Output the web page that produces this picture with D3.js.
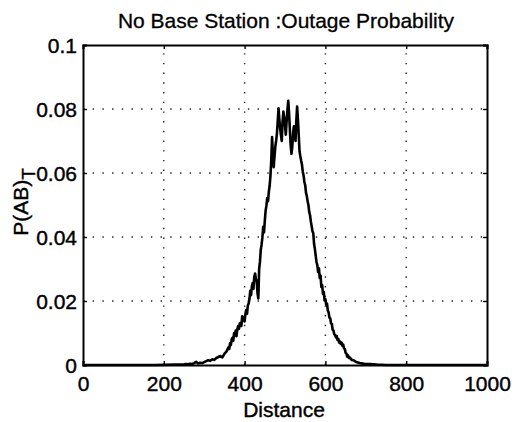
<!DOCTYPE html>
<html>
<head>
<meta charset="utf-8">
<script src="https://cdn.jsdelivr.net/npm/d3@7"></script>
<style>
  html, body { margin: 0; padding: 0; background: #fff; }
  svg { display: block; font-family: "Liberation Sans", Arial, Helvetica, sans-serif; }
</style>
</head>
<body>
<svg id="chart" width="516" height="422"></svg>
<script>
// ---- data ----
const title = "No Base Station :Outage Probability";
const xLabel = "Distance";
const xTicks = [0, 200, 400, 600, 800, 1000];
const yTicks = [0, 0.02, 0.04, 0.06, 0.08, 0.1];
const yTickLabels = ["0", "0.02", "0.04", "0.06", "0.08", "0.1"];
const distance = [0, 180, 250, 255, 260, 265, 270, 275, 280, 285, 290, 295, 300, 305, 310, 315, 320, 325, 330, 335, 340, 345, 350, 355,
  360, 362, 364, 366, 368, 370, 372, 374, 376, 378, 380, 382, 384, 386, 388, 390, 392, 394, 396, 398,
  400, 402, 404, 406, 408, 410, 412, 414, 416, 418, 420, 422, 424, 426, 428, 430, 432, 434, 436, 438,
  440, 442, 444, 446, 448, 450, 452, 454, 456, 458, 460, 462, 464, 466, 468, 470, 472, 474, 476, 478,
  480, 482, 484, 486, 488, 490, 492, 494, 496, 498, 500, 502, 504, 506, 508, 510, 512, 514, 516, 518,
  520, 522, 524, 526, 528, 530, 532, 534, 536, 538, 540, 542, 544, 546, 548, 550, 552, 554, 556, 558,
  560, 562, 564, 566, 568, 570, 572, 574, 576, 578, 580, 582, 584, 586, 588, 590, 592, 594, 596, 598,
  600, 602, 604, 606, 608, 610, 612, 614, 616, 618, 620, 622, 624, 626, 628, 630, 632, 634, 636, 638,
  640, 642, 644, 646, 648, 650, 652, 654, 656, 658, 660, 665, 670, 675, 680, 685, 690, 695, 700, 710, 720, 730, 740, 750, 1000];
const probability = [0, 0, 0.0002, 0.0003, 0.0002, 0.0004, 0.0003, 0.0006, 0.0010, 0.0005, 0.0007, 0.0006, 0.0009, 0.0012, 0.0015, 0.0013, 0.0018, 0.0016, 0.0022, 0.0025, 0.0028, 0.0024, 0.0035, 0.0042,
  0.0055, 0.0050, 0.0068, 0.0062, 0.0080, 0.0085, 0.0076, 0.0100, 0.0092, 0.0108, 0.0090, 0.0112, 0.0122, 0.0113, 0.0130, 0.0132, 0.0122, 0.0152, 0.0140, 0.0148,
  0.0136, 0.0160, 0.0172, 0.0160, 0.0186, 0.0192, 0.0206, 0.0232, 0.0218, 0.0246, 0.0256, 0.0238, 0.0276, 0.0286, 0.0268, 0.0262, 0.0224, 0.0208, 0.0300, 0.0322,
  0.0360, 0.0376, 0.0398, 0.0432, 0.0414, 0.0450, 0.0482, 0.0498, 0.0522, 0.0512, 0.0542, 0.0560, 0.0592, 0.0640, 0.0712, 0.0660, 0.0618, 0.0652, 0.0682, 0.0700,
  0.0722, 0.0762, 0.0802, 0.0768, 0.0740, 0.0718, 0.0700, 0.0762, 0.0792, 0.0774, 0.0748, 0.0720, 0.0762, 0.0796, 0.0826, 0.0788, 0.0738, 0.0688, 0.0660, 0.0682,
  0.0722, 0.0746, 0.0728, 0.0700, 0.0762, 0.0808, 0.0768, 0.0718, 0.0668, 0.0652, 0.0638, 0.0626, 0.0604, 0.0592, 0.0572, 0.0562, 0.0538, 0.0528, 0.0512, 0.0500,
  0.0478, 0.0468, 0.0448, 0.0434, 0.0418, 0.0412, 0.0378, 0.0362, 0.0342, 0.0322, 0.0312, 0.0290, 0.0302, 0.0272, 0.0280, 0.0244, 0.0250, 0.0222, 0.0228, 0.0202,
  0.0206, 0.0188, 0.0192, 0.0170, 0.0164, 0.0148, 0.0146, 0.0130, 0.0128, 0.0110, 0.0108, 0.0096, 0.0094, 0.0086, 0.0090, 0.0078, 0.0082, 0.0070, 0.0074, 0.0066,
  0.0070, 0.0060, 0.0064, 0.0052, 0.0050, 0.0038, 0.0036, 0.0026, 0.0030, 0.0022, 0.0024, 0.0016, 0.0015, 0.0010, 0.0008, 0.0006, 0.0005, 0.0004, 0.0003, 0.0003, 0.0002, 0.0001, 0.0001, 0, 0];

// ---- layout ----
const svg = d3.select("#chart");
const L = 83, R = 487, T = 45, B = 365;
const x = d3.scaleLinear().domain([0, 1000]).range([L, R]);
const y = d3.scaleLinear().domain([0, 0.1]).range([B, T]);

// grid
const grid = svg.append("g").attr("stroke", "#222").attr("stroke-width", 1.4).attr("stroke-dasharray", "1.4,8.3");
grid.selectAll("line.gx").data(xTicks.slice(1, -1)).join("line")
  .attr("x1", d => x(d)).attr("x2", d => x(d)).attr("y1", B).attr("y2", T);
grid.selectAll("line.gy").data(yTicks.slice(1, -1)).join("line")
  .attr("class", "gy")
  .attr("x1", L).attr("x2", R).attr("y1", d => y(d)).attr("y2", d => y(d));

// axes via d3 (inner ticks)
const fmtY = d => yTickLabels[yTicks.indexOf(d)];
const axB = svg.append("g").attr("transform", `translate(0,${B})`)
  .call(d3.axisBottom(x).tickValues(xTicks).tickSize(-4).tickPadding(11).tickFormat(d3.format("d")));
const axL = svg.append("g").attr("transform", `translate(${L},0)`)
  .call(d3.axisLeft(y).tickValues(yTicks).tickSize(-4).tickPadding(6).tickFormat(fmtY));
const axT = svg.append("g").attr("transform", `translate(0,${T})`)
  .call(d3.axisTop(x).tickValues(xTicks).tickSize(-4).tickFormat(""));
const axR = svg.append("g").attr("transform", `translate(${R},0)`)
  .call(d3.axisRight(y).tickValues(yTicks).tickSize(-4).tickFormat(""));
[axB, axL, axT, axR].forEach(a => {
  a.select(".domain").attr("stroke", "#000").attr("stroke-width", 2);
  a.selectAll(".tick line").attr("stroke", "#000").attr("stroke-width", 1.4);
  a.selectAll("text").attr("fill", "#000").attr("font-size", 21)
    .attr("stroke", "#000").attr("stroke-width", 0.4)
    .attr("font-family", "'Liberation Sans', Arial, sans-serif");
});
axL.selectAll("text").attr("dy", "0.36em");

// curve
const pts = distance.map((d, i) => [d, probability[i]]);
svg.append("path").datum(pts)
  .attr("fill", "none").attr("stroke", "#000").attr("stroke-width", 2.6)
  .attr("stroke-linejoin", "round")
  .attr("d", d3.line().x(d => x(d[0])).y(d => y(d[1])));

// title
svg.append("text").attr("x", 286).attr("y", 28).attr("text-anchor", "middle")
  .attr("font-size", 21).attr("fill", "#000").attr("stroke", "#000").attr("stroke-width", 0.3).text(title);

// x label
svg.append("text").attr("x", 284).attr("y", 417).attr("text-anchor", "middle")
  .attr("font-size", 21).attr("fill", "#000").attr("stroke", "#000").attr("stroke-width", 0.4).text(xLabel);

// y label P(AB)_T
const yl = svg.append("text").attr("transform", "translate(28,202) rotate(-90)")
  .attr("text-anchor", "middle").attr("font-size", 21).attr("fill", "#000")
  .attr("stroke", "#000").attr("stroke-width", 0.4);
yl.append("tspan").text("P(AB)");
yl.append("tspan").attr("dy", 7).attr("font-size", 19).text("T");
</script>
</body>
</html>
